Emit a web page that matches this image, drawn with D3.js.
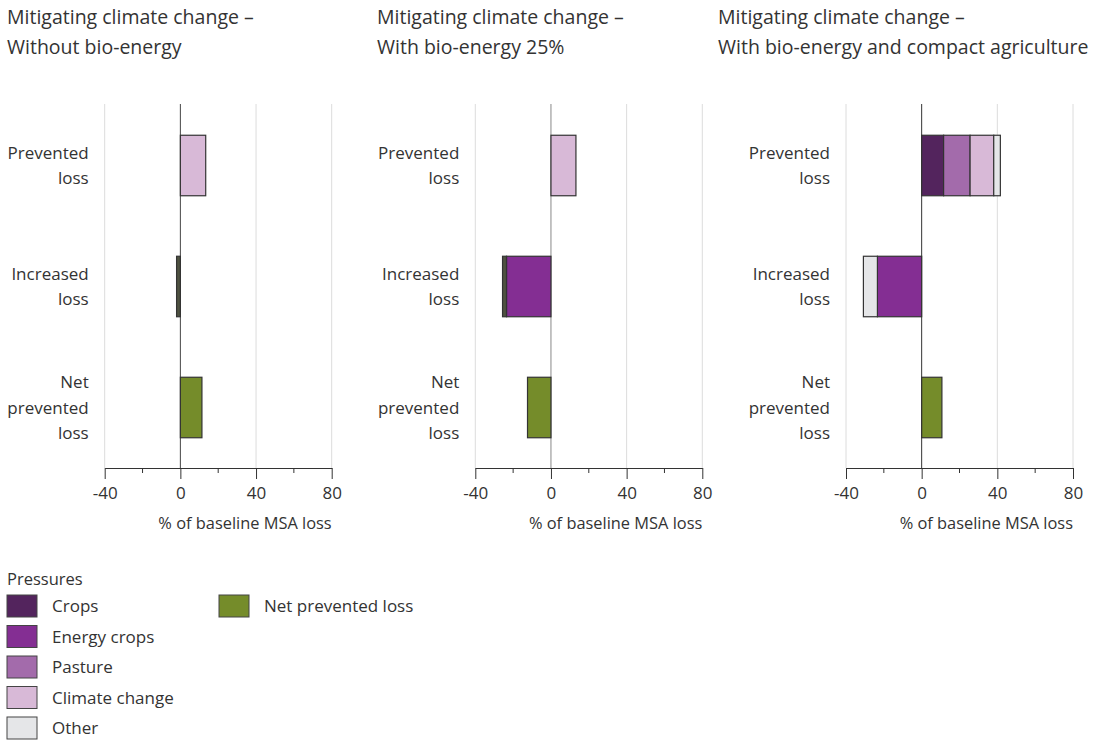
<!DOCTYPE html>
<html>
<head>
<meta charset="utf-8">
<script src="https://cdn.jsdelivr.net/npm/d3@7"></script>
<style>
  html, body { margin: 0; padding: 0; background: #fff; }
  text { font-family: "Open Sans", "Noto Sans", sans-serif; fill: #333; }
</style>
</head>
<body>
<svg id="chart" width="1097" height="741"></svg>
<script>
// ---------- DATA ----------
const categories = ["Prevented loss", "Increased loss", "Net prevented loss"];
const categoryLines = [["Prevented", "loss"], ["Increased", "loss"], ["Net", "prevented", "loss"]];
const panelTitles = [
  ["Mitigating climate change \u2013", "Without bio-energy"],
  ["Mitigating climate change \u2013", "With bio-energy 25%"],
  ["Mitigating climate change \u2013", "With bio-energy and compact agriculture"]
];
const seriesKeys = ["Crops", "Energy crops", "Pasture", "Climate change", "Other", "Unspecified", "Net prevented loss"];
// values per panel, per category (Prevented, Increased, Net)
const cropsValues        = [[0, 0, 0], [0, 0, 0], [11.6, 0, 0]];
const energyCropsValues  = [[0, 0, 0], [0, -23.5, 0], [0, -23.4, 0]];
const pastureValues      = [[0, 0, 0], [0, 0, 0], [14.0, 0, 0]];
const climateValues      = [[13.4, 0, 0], [13.2, 0, 0], [12.5, 0, 0]];
const otherValues        = [[0, 0, 0], [0, 0, 0], [3.5, -7.4, 0]];
const unspecifiedValues  = [[0, -2.0, 0], [0, -2.1, 0], [0, 0, 0]];
const netValues          = [[0, 0, 11.4], [0, 0, -12.4], [0, 0, 10.7]];
const xTicks = [-40, 0, 40, 80];
const xMinorTicks = [-20, 20, 60];
const axisTitle = "% of baseline MSA loss";
const legendTitle = "Pressures";
const legendPressures = ["Crops", "Energy crops", "Pasture", "Climate change", "Other"];
const legendNet = ["Net prevented loss"];

// ---------- STYLE ----------
const colors = {
  "Crops": "#53245d",
  "Energy crops": "#842e93",
  "Pasture": "#a36bab",
  "Climate change": "#d8b9d7",
  "Other": "#e5e6e8",
  "Unspecified": "#4f5241",
  "Net prevented loss": "#758c2a"
};
const panelX0 = [104.7, 475.3, 846];
const titleX = [7, 377, 718];
const zeroColors = ["#444", "#888", "#333"];
const plotW = 227;
const plotTop = 104, plotBottom = 468;
const fs = 17;
const titleFs = 19.5;

const svg = d3.select("#chart");
const seriesArrays = {
  "Crops": cropsValues, "Energy crops": energyCropsValues, "Pasture": pastureValues,
  "Climate change": climateValues, "Other": otherValues, "Unspecified": unspecifiedValues,
  "Net prevented loss": netValues
};

const y = d3.scaleBand().domain(categories).range([plotTop + 1, plotBottom]).paddingInner(0.5).paddingOuter(0.25);

panelTitles.forEach((title, p) => {
  const g = svg.append("g");
  const x = d3.scaleLinear().domain([-40, 80]).range([panelX0[p], panelX0[p] + plotW]);

  // title
  g.append("text").attr("x", titleX[p]).attr("y", 24).style("font-size", titleFs + "px").text(title[0]);
  g.append("text").attr("x", titleX[p]).attr("y", 54).style("font-size", titleFs + "px").text(title[1]);

  // grid lines
  g.selectAll("line.grid").data(xTicks.filter(d => d !== 0)).join("line")
    .attr("x1", d => x(d)).attr("x2", d => x(d))
    .attr("y1", plotTop).attr("y2", plotBottom)
    .attr("stroke", "#dcdcdc").attr("stroke-width", 1);

  // rows
  const rows = categories.map((c, i) => {
    const r = { category: c };
    seriesKeys.forEach(k => { r[k] = seriesArrays[k][p][i]; });
    return r;
  });
  const stack = d3.stack().keys(seriesKeys).offset(d3.stackOffsetDiverging);
  const layers = stack(rows);

  // zero line
  g.append("line").attr("x1", x(0)).attr("x2", x(0)).attr("y1", plotTop).attr("y2", plotBottom)
    .attr("stroke", zeroColors[p]).attr("stroke-width", 1);

  layers.forEach(layer => {
    g.selectAll(null).data(layer.filter(d => d[1] - d[0] !== 0)).join("rect")
      .attr("x", d => x(Math.min(d[0], d[1])))
      .attr("width", d => Math.abs(x(d[1]) - x(d[0])))
      .attr("y", d => y(d.data.category))
      .attr("height", y.bandwidth())
      .attr("fill", colors[layer.key])
      .attr("stroke", "#333").attr("stroke-width", 1.2);
  });

  // axis
  const axis = d3.axisBottom(x).tickValues(xTicks).tickSize(11).tickFormat(d3.format("d")).tickSizeOuter(0);
  const ax = g.append("g").attr("transform", `translate(0,${plotBottom})`).call(axis);
  ax.select(".domain").attr("stroke", "#333");
  ax.selectAll(".tick line").attr("stroke", "#333");
  ax.selectAll(".tick text").attr("dy", "0").attr("y", 31).style("font-size", fs + "px").style("fill", "#333")
    .text(d => d < 0 ? "-" + Math.abs(d) : d);
  g.selectAll("line.minor").data(xMinorTicks).join("line")
    .attr("x1", d => x(d)).attr("x2", d => x(d))
    .attr("y1", plotBottom).attr("y2", plotBottom + 5)
    .attr("stroke", "#333");

  g.append("text").attr("x", x(80)).attr("y", 529).attr("text-anchor", "end")
    .style("font-size", "16.4px").text(axisTitle);

  // category labels
  categories.forEach((c, i) => {
    const lines = categoryLines[i];
    const cy = y(c) + y.bandwidth() / 2;
    lines.forEach((ln, j) => {
      g.append("text").attr("x", panelX0[p] - 16)
        .attr("y", cy + (j - (lines.length - 1) / 2) * 25.5 + 6)
        .attr("text-anchor", "end").style("font-size", fs + "px").text(ln);
    });
  });
});

// ---------- LEGEND ----------
const lg = svg.append("g");
lg.append("text").attr("x", 7).attr("y", 585).style("font-size", "16.5px").text(legendTitle);
const legItems = lg.selectAll("g.item").data(legendPressures).join("g")
  .attr("transform", (d, i) => `translate(7, ${595 + i * 30.5})`);
legItems.append("rect").attr("width", 30).attr("height", 22).attr("fill", d => colors[d])
  .attr("stroke", "#444").attr("stroke-width", 1);
legItems.append("text").attr("x", 45).attr("y", 17).style("font-size", "17px").text(d => d);
const netItem = lg.selectAll("g.net").data(legendNet).join("g").attr("transform", "translate(219, 595)");
netItem.append("rect").attr("width", 30).attr("height", 22).attr("fill", d => colors[d])
  .attr("stroke", "#444").attr("stroke-width", 1);
netItem.append("text").attr("x", 45).attr("y", 17).style("font-size", "17px").text(d => d);
</script>
</body>
</html>
